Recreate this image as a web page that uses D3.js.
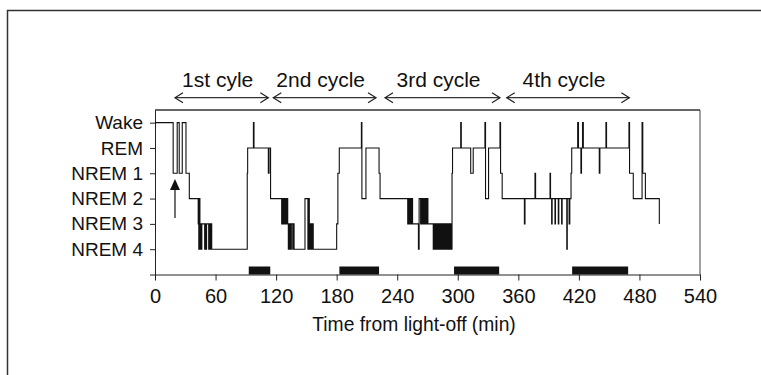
<!DOCTYPE html>
<html>
<head>
<meta charset="utf-8">
<script src="https://cdn.jsdelivr.net/npm/d3@7"></script>
<style>
  html, body { margin: 0; padding: 0; background: #fff; }
  svg { display: block; }
  text { font-family: "Liberation Sans", Arial, Helvetica, sans-serif; fill: #111; }
</style>
</head>
<body>
<svg id="chart" width="761" height="375"></svg>
<script>
// ---------------- data ----------------
const stageLabels = ["Wake", "REM", "NREM 1", "NREM 2", "NREM 3", "NREM 4"];
const xTicks = [0, 60, 120, 180, 240, 300, 360, 420, 480, 540];
const xTitle = "Time from light-off (min)";

// cycle annotations: [start min, end min, label]
const cycleLabels = ["1st cyle", "2nd cycle", "3rd cycle", "4th cycle"];
const cycleStart = [19.8, 117.2, 227.9, 348.5];
const cycleEnd = [112.3, 219, 341.8, 470];

// REM periods (black bars on the axis)
const remStart = [92.9, 182.7, 296.3, 413.3];
const remEnd = [114.2, 222, 341, 468.8];

// lights-off arrow time (min)
const arrowTime = [19.8];

// hypnogram: [time (min), stage index] (0 = Wake ... 5 = NREM 4)
const hypnogram = [
  [0,0],[18,2],[22,0],[24,2],[27,0],[30.7,2],[34,3],
  [42.8,4],[43.4,5],[43.9,3],[44.5,5],[45.1,4],[45.8,5],[46.4,4],
  [49.2,5],[49.9,4],[50.5,5],[51.1,4],[53.2,5],[53.8,4],[54.5,5],[55.1,4],[56.2,5],
  [91.4,2],[91.8,1],[97.5,0],[98.1,1],[112.3,2],[113,1],[114.5,3],
  [125.5,4],[126.1,3],[126.7,4],[127.3,3],[127.9,4],[128.5,3],[129.1,4],[129.7,3],[130.3,4],[130.9,3],[131.5,4],
  [132.1,5],[132.7,4],[133.3,5],[133.9,4],[134.5,5],[135.1,4],[136.5,5],[137.1,4],[137.8,5],
  [148.6,3],[151.5,5],[152.1,3],[152.9,5],[153.5,4],[154.2,5],[154.8,4],[155.4,5],[156.2,4],[156.8,5],
  [180,4],[181.2,2],[182.6,1],[204.5,0],[205,3],[209,1],[222,2],[223,3],
  [250.4,4],[251,3],[251.6,4],[252.2,3],[252.8,4],[253.4,3],[254,4],[254.6,3],[255.2,4],
  [261,5],[261.7,3],[263.2,4],[263.8,3],[264.4,4],[265,3],[265.6,4],[266.2,3],[266.8,4],[267.4,3],[268,4],[268.6,3],[269.2,4],[269.8,3],[270.4,4],
  [275.7,5],[276.3,4],[276.9,5],[277.5,4],[278.1,5],[278.7,4],[279.3,5],[279.9,4],[280.5,5],[281.1,4],[281.7,5],[282.3,4],[282.9,5],[283.5,4],[284.1,5],[284.7,4],[285.3,5],[285.9,4],[286.5,5],[287.1,4],[287.7,5],[288.3,4],[288.9,5],[289.5,4],[290.1,5],[290.7,4],[291.3,5],[291.9,4],[292.5,5],[293.1,4],[293.7,5],
  [294.3,2],[294.8,1],[302.9,0],[303.5,1],[312.8,2],[315.3,1],[326.9,0],[327.5,3],[330.5,1],[341.8,0],[342.4,2],[344,3],
  [366,4],[366.6,3],[376.5,2],[377.1,3],[391.4,2],[391.9,3],[393,4],[393.5,3],[396.3,4],[396.8,3],[399.6,4],[400.1,3],[402.9,4],[403.4,3],[408,5],[408.5,3],[410.3,4],[411,3],[412.2,2],[412.9,1],
  [418.8,0],[419.6,1],[422,2],[422.6,1],[423.6,0],[424.4,1],[440.2,2],[440.8,1],[446.8,0],[447.4,1],[469.6,0],[470.2,2],[473.9,3],[482.6,0],[483.3,2],[485.9,3],[499.7,4]
];

// ---------------- drawing ----------------
const svg = d3.select("#chart");

const x = d3.scaleLinear().domain([0, 540]).range([155, 700]);
const y = d3.scaleLinear().domain([-0.5, 6]).range([110, 274.5]);

// outer frame (top + left)
svg.append("path")
  .attr("d", "M7.5,375 L7.5,10.5 L761,10.5")
  .attr("fill", "none").attr("stroke", "#333").attr("stroke-width", 1.5);

// plot frame top & right
svg.append("line").attr("x1", x(0)).attr("x2", x(540)).attr("y1", y(-0.5)).attr("y2", y(-0.5))
  .attr("stroke", "#666").attr("stroke-width", 2);
svg.append("line").attr("x1", x(540)).attr("x2", x(540)).attr("y1", y(-0.5)).attr("y2", y(6))
  .attr("stroke", "#444").attr("stroke-width", 1);

// y axis
const yAxis = d3.axisLeft(y)
  .tickValues([0, 1, 2, 3, 4, 5, 6])
  .tickFormat(i => stageLabels[i] || "")
  .tickSize(5).tickSizeOuter(0).tickPadding(7);
const gy = svg.append("g").attr("transform", `translate(${x(0)},0)`).call(yAxis);
gy.selectAll("text").attr("font-size", 19).attr("fill", "#111");
gy.selectAll("line, path").attr("stroke", "#222");

// x axis
const xAxis = d3.axisBottom(x).tickValues(xTicks).tickSize(6).tickSizeOuter(0).tickPadding(8);
const gx = svg.append("g").attr("transform", `translate(0,${y(6)})`).call(xAxis);
gx.selectAll("text").attr("font-size", 20).attr("fill", "#111");
gx.selectAll("line, path").attr("stroke", "#222");

// x title
svg.append("text").attr("x", 414).attr("y", 331).attr("text-anchor", "middle")
  .attr("font-size", 19.3).text(xTitle);

// REM bars
svg.selectAll("rect.rem").data(remStart).enter().append("rect")
  .attr("class", "rem")
  .attr("x", (d) => x(d))
  .attr("width", (d, i) => x(remEnd[i]) - x(d))
  .attr("y", y(6) - 8).attr("height", 8)
  .attr("fill", "#111");

// hypnogram
const line = d3.line().x(d => x(d[0])).y(d => y(d[1])).curve(d3.curveStepAfter);
svg.append("path").datum(hypnogram).attr("d", line)
  .attr("fill", "none").attr("stroke", "#111").attr("stroke-width", 1.1);

// lights-off arrow
arrowTime.forEach(t => {
  const ax = x(t);
  svg.append("line").attr("x1", ax).attr("x2", ax).attr("y1", 218).attr("y2", 188)
    .attr("stroke", "#111").attr("stroke-width", 1.2);
  svg.append("path").attr("d", `M${ax},179 L${ax - 5},190 L${ax + 5},190 Z`).attr("fill", "#111");
});

// cycle arrows
const cy = 97.7;
cycleStart.forEach((s, i) => {
  const x1 = x(s), x2 = x(cycleEnd[i]);
  svg.append("line").attr("x1", x1).attr("x2", x2).attr("y1", cy).attr("y2", cy)
    .attr("stroke", "#333").attr("stroke-width", 1.2);
  svg.append("path").attr("d", `M${x1 + 8},${cy - 5} L${x1},${cy} L${x1 + 8},${cy + 5}`)
    .attr("fill", "none").attr("stroke", "#222").attr("stroke-width", 1.2);
  svg.append("path").attr("d", `M${x2 - 8},${cy - 5} L${x2},${cy} L${x2 - 8},${cy + 5}`)
    .attr("fill", "none").attr("stroke", "#222").attr("stroke-width", 1.2);
  svg.append("text").attr("x", (x1 + x2) / 2 - 4).attr("y", 87).attr("text-anchor", "middle")
    .attr("font-size", 21).text(cycleLabels[i]);
});
</script>
</body>
</html>
